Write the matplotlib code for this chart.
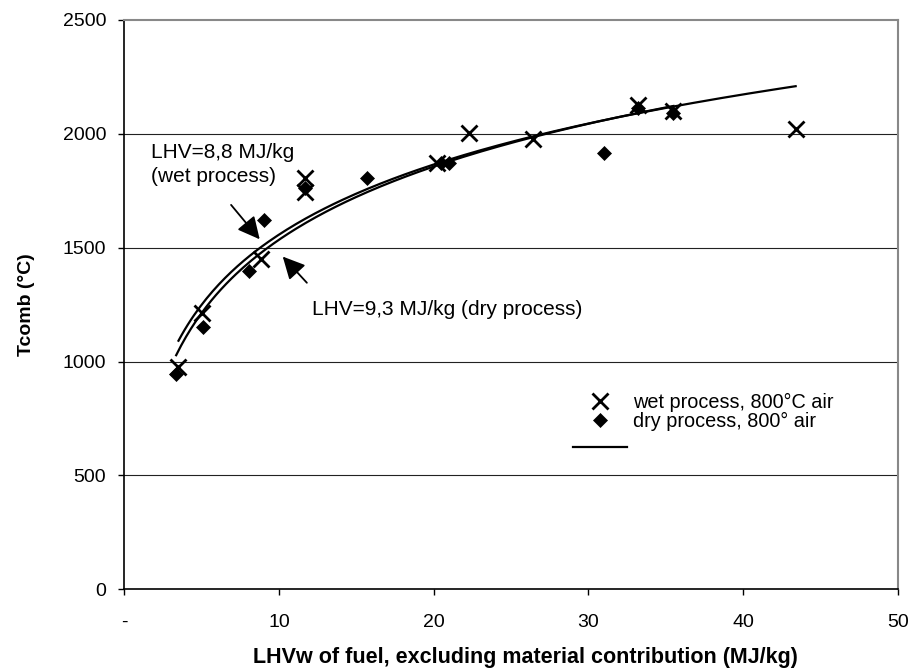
import numpy as np
import matplotlib
matplotlib.use("Agg")
import matplotlib.pyplot as plt
from matplotlib.lines import Line2D

plt.rcParams['font.family'] = ['Liberation Sans', 'DejaVu Sans']

# wet process, 800°C air
wet_x = [3.5, 5.0, 8.85, 11.7, 11.7, 20.2, 22.3, 26.4, 33.2, 35.5, 43.4]
wet_y = [977, 1215, 1449, 1805, 1746, 1873, 2003, 1976, 2127, 2100, 2020]
# dry process, 800° air
dry_x = [3.35, 5.07, 8.04, 9.05, 11.7, 15.67, 20.5, 21.0, 31.0, 33.2, 35.5]
dry_y = [945, 1151, 1399, 1622, 1761, 1805, 1871, 1871, 1915, 2112, 2090]

xticks = [0, 10, 20, 30, 40, 50]
xlabels = ['-', '10', '20', '30', '40', '50']
yticks = [0, 500, 1000, 1500, 2000, 2500]

fs = 14
fs_txt = 15

fig = plt.figure(figsize=(9.17, 6.71), dpi=100)
ax = fig.add_axes([0.1356, 0.1218, 0.8434, 0.8484])

# log trend lines (fitted like the spreadsheet does)
for xs, ys in [(wet_x, wet_y), (dry_x, dry_y)]:
    xs = np.array(xs)
    b, a = np.polyfit(np.log(xs), np.array(ys), 1)
    xx = np.linspace(xs.min(), xs.max(), 200)
    ax.plot(xx, a + b * np.log(xx), color='black', lw=1.6, zorder=3)

ax.plot(wet_x, wet_y, linestyle='none', marker='x', ms=11, mew=2, color='black', zorder=4)
ax.plot(dry_x, dry_y, linestyle='none', marker='D', ms=7.5, mew=0.5, color='black', zorder=4)

ax.set_xlim(0, 50)
ax.set_ylim(0, 2500)
ax.set_xticks(xticks)
ax.set_xticklabels(xlabels)
ax.set_yticks(yticks)
ax.tick_params(direction='out', length=4, width=1, labelsize=fs, colors='black')
ax.tick_params(axis='x', pad=14)
ax.tick_params(axis='y', pad=9)

for yv in yticks[1:-1]:
    ax.axhline(yv, color='#222222', lw=0.8, zorder=1)

ax.spines['left'].set_linewidth(1.2)
ax.spines['bottom'].set_linewidth(1.2)
ax.spines['top'].set_color('#888888')
ax.spines['right'].set_color('#888888')
ax.spines['top'].set_linewidth(1.5)
ax.spines['right'].set_linewidth(1.5)

ax.set_xlabel('LHVw of fuel, excluding material contribution (MJ/kg)', fontsize=15.5,
              fontweight='bold', labelpad=11, x=0.518)
ax.set_ylabel('Tcomb (°C)', fontsize=fs, fontweight='bold', labelpad=20)

# annotations
ax.text(1.7, 1958, 'LHV=8,8 MJ/kg\n(wet process)', fontsize=fs_txt, ha='left', va='top', linespacing=1.3)
arrow = dict(arrowstyle='-|>,head_length=0.5,head_width=0.25', color='black', lw=1.3,
             mutation_scale=27, shrinkA=0, shrinkB=0)
ax.annotate('', xy=(8.75, 1537), xytext=(6.9, 1688), arrowprops=arrow)
ax.annotate('', xy=(10.24, 1461), xytext=(11.8, 1346), arrowprops=arrow)
ax.text(12.1, 1227, 'LHV=9,3 MJ/kg (dry process)', fontsize=fs_txt, ha='left', va='center')

handles = [Line2D([], [], linestyle='none', marker='x', ms=11, mew=2, color='black'),
           Line2D([], [], linestyle='none', marker='D', ms=7.5, mew=0.5, color='black')]
leg = ax.legend(handles, ['wet process, 800°C air', 'dry process, 800° air'],
                loc='upper left', bbox_to_anchor=(573 / 917, 1 - 393 / 671), bbox_transform=fig.transFigure,
                frameon=False, fontsize=14.3, handlelength=2.7, handletextpad=0.3,
                labelspacing=-0.02, borderpad=0, borderaxespad=0)
ax.add_artist(leg)
ax.legend([Line2D([], [], color='black', lw=1.6)], [''],
          loc='upper left', bbox_to_anchor=(573 / 917, 1 - 439 / 671), bbox_transform=fig.transFigure,
          frameon=False, fontsize=14.3, handlelength=2.7, handletextpad=0.3,
          borderpad=0, borderaxespad=0)

fig.savefig('out.png', dpi=100)
